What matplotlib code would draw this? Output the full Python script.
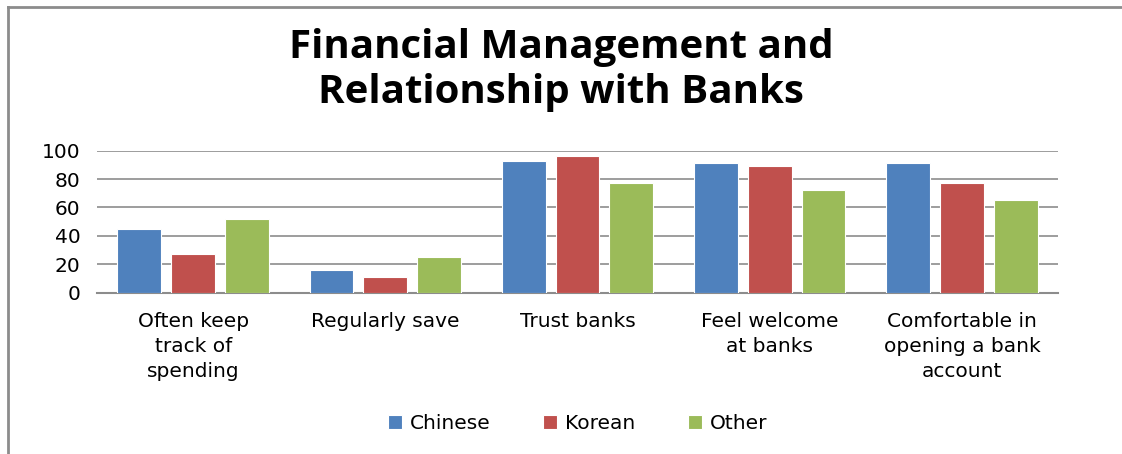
import matplotlib
matplotlib.use("Agg")
import matplotlib.pyplot as plt
from matplotlib.lines import Line2D
import numpy as np

categories = ["Often keep\ntrack of\nspending", "Regularly save", "Trust banks",
              "Feel welcome\nat banks", "Comfortable in\nopening a bank\naccount"]
series = ["Chinese", "Korean", "Other"]
chinese = [45, 16, 93, 91.5, 91.5]
korean = [27, 11, 96, 89, 77]
other = [52, 25, 77, 72, 65]
colors = ["#4f81bd", "#c0504d", "#9bbb59"]
yticks = [0, 20, 40, 60, 80, 100]

fig = plt.figure(figsize=(11.22, 4.54), dpi=100)
ax = fig.add_axes([0.0865, 0.3553, 0.8565, 0.3128])

x = np.arange(len(categories))
step, width = 0.28, 0.228
for k, (vals, name, c) in enumerate(zip([chinese, korean, other], series, colors)):
    ax.bar(x + (k - 1) * step, vals, width, color=c, label=name,
           edgecolor="white", linewidth=0.8, zorder=3)

ax.set_xlim(-0.5, len(categories) - 0.5)
ax.set_ylim(0, 100)
ax.set_yticks(yticks)
ax.set_yticklabels([str(t) for t in yticks], fontsize=14.5)
ax.set_xticks(x)
ax.set_xticklabels(categories, fontsize=14.5, linespacing=1.4)
ax.tick_params(length=0, pad=12)
ax.tick_params(axis="x", pad=14)
ax.yaxis.grid(True, color="#8c8c8c", linewidth=1.2, zorder=0)
for s in ["left", "right", "top"]:
    ax.spines[s].set_visible(False)
ax.spines["bottom"].set_color("#8c8c8c")
ax.spines["bottom"].set_linewidth(1.5)

fig.text(0.5, 1 - 70 / 454, "Financial Management and\nRelationship with Banks",
         ha="center", va="center", fontsize=29, fontweight="bold",
         family="Open Sans", linespacing=1.2)

fig.legend(loc="center", bbox_to_anchor=(0.515, 0.068), ncol=3, frameon=False,
           fontsize=14.5, handlelength=0.7, handleheight=0.7, columnspacing=2.6,
           handletextpad=0.4)

# chart frame (left and top edges visible)
fig.add_artist(Line2D([8 / 1122, 8 / 1122], [0, 1 - 7 / 454], transform=fig.transFigure,
                      color="#8c8c8c", linewidth=2))
fig.add_artist(Line2D([8 / 1122, 1], [1 - 7 / 454, 1 - 7 / 454], transform=fig.transFigure,
                      color="#8c8c8c", linewidth=2))

fig.savefig("out.png", dpi=100)
